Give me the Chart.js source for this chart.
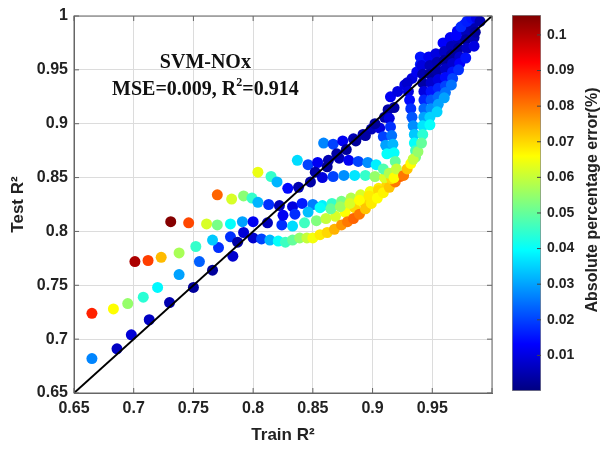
<!DOCTYPE html>
<html>
<head>
<meta charset="utf-8">
<script src="https://cdn.jsdelivr.net/npm/chart.js@4/dist/chart.umd.min.js"></script>
<style>
    body { margin: 0; background: #fff; }
    #wrap { position: relative; width: 600px; height: 450px; background: #fff; }
    #wrap canvas { position: absolute; left: 0; top: 0; }
</style>
</head>
<body>
<div id="wrap">
    <canvas id="grafico" width="600" height="450"></canvas>
    <canvas id="barra" width="600" height="450"></canvas>
</div>
<script>
// Dados (R2 de treino, R2 de teste, erro percentual absoluto)
const trainR2 = [
    0.665, 0.665, 0.683, 0.695, 0.708, 0.720, 0.738, 0.755, 0.771, 0.781, 0.792,
    0.686, 0.698, 0.713, 0.730, 0.750, 0.766, 0.783, 0.787,
    0.701, 0.712, 0.723, 0.738, 0.752, 0.766,
    0.731, 0.746, 0.761, 0.770, 0.781, 0.791, 0.800, 0.812, 0.824, 0.833, 0.843, 0.853, 0.861, 0.869, 0.877, 0.885, 0.893, 0.900, 0.907, 0.913,
    0.770, 0.782, 0.792, 0.799, 0.804, 0.813, 0.822, 0.833, 0.841, 0.850, 0.858, 0.866, 0.874, 0.882, 0.890, 0.898, 0.905, 0.912,
    0.825, 0.835, 0.846, 0.856, 0.865, 0.873, 0.881, 0.889, 0.897, 0.905,
    0.800, 0.807, 0.814, 0.821, 0.827, 0.833, 0.839, 0.845, 0.850, 0.856, 0.862, 0.868, 0.874, 0.879, 0.884, 0.889, 0.894, 0.899, 0.904, 0.909, 0.914, 0.919, 0.923,
    0.804, 0.815, 0.820, 0.829, 0.838, 0.848, 0.858, 0.867, 0.876, 0.885, 0.894, 0.902, 0.910, 0.916,
    0.837, 0.846, 0.854, 0.863, 0.872, 0.880, 0.888, 0.896, 0.903, 0.909, 0.914, 0.918,
    0.859, 0.867, 0.875, 0.884, 0.892, 0.899, 0.906, 0.909, 0.911, 0.912,
    0.852, 0.862, 0.870, 0.878, 0.886, 0.894, 0.902, 0.910, 0.918,
    0.913, 0.914, 0.915, 0.916, 0.917, 0.918, 0.919, 0.920,
    0.915, 0.921, 0.927, 0.933, 0.937, 0.940, 0.945, 0.950,
    0.929, 0.930, 0.931, 0.932, 0.933, 0.934, 0.935, 0.935, 0.936, 0.936,
    0.926, 0.929, 0.932, 0.934, 0.938,
    0.940, 0.941, 0.942, 0.942, 0.943, 0.943, 0.943, 0.943, 0.942, 0.942, 0.941,
    0.947, 0.948, 0.948, 0.949, 0.949, 0.949, 0.949, 0.948, 0.948,
    0.953, 0.954, 0.954, 0.955, 0.955, 0.955, 0.955, 0.954,
    0.959, 0.960, 0.960, 0.961, 0.961, 0.961, 0.961, 0.960,
    0.965, 0.966, 0.966, 0.967, 0.967, 0.967, 0.966,
    0.971, 0.972, 0.972, 0.973, 0.973, 0.972,
    0.977, 0.978, 0.978, 0.979, 0.978,
    0.983, 0.984, 0.985, 0.985,
    0.970, 0.974, 0.979, 0.983, 0.987, 0.990, 0.986
]
const testR2 = [
    0.682, 0.724, 0.728, 0.733, 0.739, 0.748, 0.760, 0.772, 0.785, 0.795, 0.799,
    0.691, 0.704, 0.718, 0.734, 0.748, 0.764, 0.777, 0.790,
    0.772, 0.773, 0.776, 0.780, 0.786, 0.792,
    0.809, 0.808, 0.807, 0.806, 0.807, 0.809, 0.809, 0.808, 0.806, 0.805, 0.808, 0.810, 0.812, 0.814, 0.818, 0.822, 0.827, 0.832, 0.838, 0.843,
    0.834, 0.830, 0.833, 0.831, 0.827, 0.825, 0.824, 0.823, 0.826, 0.825, 0.824, 0.826, 0.828, 0.831, 0.834, 0.837, 0.840, 0.844,
    0.815, 0.816, 0.818, 0.822, 0.821, 0.823, 0.826, 0.829, 0.833, 0.838,
    0.794, 0.793, 0.792, 0.791, 0.790, 0.792, 0.794, 0.794, 0.794, 0.797, 0.799, 0.802, 0.806, 0.809, 0.812, 0.816, 0.821, 0.826, 0.831, 0.836, 0.841, 0.846, 0.851,
    0.855, 0.851, 0.846, 0.840, 0.841, 0.846, 0.850, 0.851, 0.852, 0.852, 0.852, 0.851, 0.850, 0.849,
    0.866, 0.862, 0.864, 0.866, 0.868, 0.866, 0.865, 0.864, 0.862, 0.858, 0.854, 0.850,
    0.882, 0.881, 0.884, 0.886, 0.890, 0.895, 0.896, 0.888, 0.880, 0.872,
    0.855, 0.860, 0.872, 0.876, 0.884, 0.889, 0.900, 0.906, 0.915,
    0.913, 0.905, 0.897, 0.889, 0.881, 0.873, 0.865, 0.858,
    0.925, 0.930, 0.936, 0.942, 0.948, 0.955, 0.960, 0.962,
    0.938, 0.930, 0.922, 0.914, 0.906, 0.898, 0.890, 0.882, 0.875, 0.869,
    0.852, 0.858, 0.863, 0.867, 0.874,
    0.962, 0.954, 0.946, 0.938, 0.930, 0.922, 0.914, 0.906, 0.898, 0.890, 0.882,
    0.962, 0.954, 0.946, 0.938, 0.930, 0.922, 0.914, 0.906, 0.899,
    0.965, 0.957, 0.949, 0.941, 0.933, 0.925, 0.918, 0.911,
    0.975, 0.967, 0.959, 0.951, 0.943, 0.935, 0.929, 0.924,
    0.980, 0.972, 0.964, 0.956, 0.948, 0.942, 0.936,
    0.986, 0.978, 0.970, 0.962, 0.956, 0.950,
    0.992, 0.985, 0.978, 0.970, 0.961,
    0.995, 0.989, 0.980, 0.972,
    0.982, 0.990, 0.995, 0.998, 0.998, 0.995, 0.985
]
const absErr = [
    0.027, 0.089, 0.066, 0.055, 0.044, 0.039, 0.030, 0.023, 0.018, 0.018, 0.009,
    0.007, 0.009, 0.007, 0.005, 0.003, 0.003, 0.008, 0.004,
    0.101, 0.086, 0.073, 0.057, 0.045, 0.034,
    0.105, 0.085, 0.062, 0.052, 0.040, 0.030, 0.012, 0.006, 0.018, 0.036, 0.046, 0.053, 0.060, 0.062, 0.066, 0.070, 0.070, 0.068, 0.068, 0.070,
    0.082, 0.062, 0.054, 0.045, 0.032, 0.018, 0.006, 0.010, 0.016, 0.026, 0.038, 0.045, 0.052, 0.058, 0.062, 0.065, 0.068, 0.070,
    0.012, 0.018, 0.033, 0.040, 0.050, 0.056, 0.062, 0.066, 0.068, 0.070,
    0.008, 0.020, 0.032, 0.040, 0.046, 0.050, 0.055, 0.060, 0.065, 0.068, 0.070, 0.074, 0.077, 0.080, 0.082, 0.080, 0.072, 0.068, 0.066, 0.067, 0.072, 0.080, 0.082,
    0.064, 0.045, 0.032, 0.014, 0.005, 0.004, 0.010, 0.020, 0.028, 0.037, 0.045, 0.055, 0.062, 0.070,
    0.036, 0.020, 0.012, 0.005, 0.006, 0.012, 0.020, 0.028, 0.038, 0.048, 0.058, 0.066,
    0.027, 0.020, 0.012, 0.006, 0.005, 0.006, 0.010, 0.020, 0.030, 0.040,
    0.004, 0.003, 0.004, 0.003, 0.003, 0.004, 0.003, 0.004, 0.004,
    0.004, 0.010, 0.018, 0.025, 0.032, 0.040, 0.050, 0.060,
    0.012, 0.010, 0.010, 0.010, 0.012, 0.016, 0.016, 0.012,
    0.008, 0.010, 0.014, 0.018, 0.022, 0.028, 0.034, 0.040, 0.046, 0.052,
    0.080, 0.072, 0.066, 0.060, 0.055,
    0.015, 0.010, 0.005, 0.004, 0.010, 0.017, 0.024, 0.030, 0.037, 0.044, 0.050,
    0.012, 0.006, 0.003, 0.008, 0.015, 0.022, 0.028, 0.035, 0.040,
    0.010, 0.005, 0.004, 0.010, 0.017, 0.024, 0.030, 0.035,
    0.013, 0.007, 0.003, 0.007, 0.014, 0.020, 0.025, 0.030,
    0.012, 0.006, 0.003, 0.008, 0.015, 0.020, 0.025,
    0.012, 0.006, 0.003, 0.008, 0.013, 0.018,
    0.012, 0.006, 0.003, 0.007, 0.015,
    0.010, 0.005, 0.005, 0.010,
    0.013, 0.017, 0.016, 0.015, 0.011, 0.005, 0.003
]
const refLine = [0.65, 1]          // reta y = x
const cbMax = 0.1056               // topo da barra de cores
const cbTicks = [0.01, 0.02, 0.03, 0.04, 0.05, 0.06, 0.07, 0.08, 0.09, 0.1]

const corTexto = '#222'
const fonte = 'Liberation Sans, Arial, sans-serif'

// colormap "jet" do MATLAB
function jet(v) {
    const t = Math.min(1, Math.max(0, v / cbMax))
    const c = x => Math.round(255 * Math.min(1, Math.max(0, x)))
    return `rgb(${c(1.5 - Math.abs(4 * t - 3))}, ${c(1.5 - Math.abs(4 * t - 2))}, ${c(1.5 - Math.abs(4 * t - 1))})`
}

const pontos = trainR2.map((x, i) => ({ x: x, y: testR2[i] }))
const cores = absErr.map(jet)

// Moldura com ticks internos (estilo MATLAB)
const caixa = {
    id: 'caixa',
    afterDraw(chart) {
        const { ctx, chartArea: a, scales } = chart
        ctx.save()
        ctx.strokeStyle = '#666'
        ctx.lineWidth = 1
        ctx.strokeRect(a.left, a.top, a.right - a.left, a.bottom - a.top)
        ctx.beginPath()
        scales.x.ticks.forEach(t => {
            const px = scales.x.getPixelForValue(t.value)
            ctx.moveTo(px, a.bottom); ctx.lineTo(px, a.bottom - 5)
            ctx.moveTo(px, a.top); ctx.lineTo(px, a.top + 5)
        })
        scales.y.ticks.forEach(t => {
            const py = scales.y.getPixelForValue(t.value)
            ctx.moveTo(a.left, py); ctx.lineTo(a.left + 5, py)
            ctx.moveTo(a.right, py); ctx.lineTo(a.right - 5, py)
        })
        ctx.stroke()
        ctx.restore()
    }
}

// Texto SVM-NOx / MSE / R2
const anotacao = {
    id: 'anotacao',
    afterDraw(chart) {
        const { ctx, scales } = chart
        const cx = scales.x.getPixelForValue(0.76)
        const y1 = scales.y.getPixelForValue(0.952)
        const y2 = scales.y.getPixelForValue(0.927)
        ctx.save()
        ctx.fillStyle = '#111'
        ctx.textBaseline = 'alphabetic'
        ctx.font = 'bold 20px "Liberation Serif", "Times New Roman", serif'
        ctx.textAlign = 'center'
        ctx.fillText('SVM-NOx', cx, y1)
        const a = 'MSE=0.009, R', b = '=0.914'
        const wa = ctx.measureText(a).width
        const wb = ctx.measureText(b).width
        ctx.font = 'bold 12px "Liberation Serif", "Times New Roman", serif'
        const ws = ctx.measureText('2').width
        const x0 = cx - (wa + ws + wb) / 2
        ctx.textAlign = 'left'
        ctx.fillText('2', x0 + wa, y2 - 9)
        ctx.font = 'bold 20px "Liberation Serif", "Times New Roman", serif'
        ctx.fillText(a, x0, y2)
        ctx.fillText(b, x0 + wa + ws, y2)
        ctx.restore()
    }
}

const fmt = v => String(+v.toFixed(2))

new Chart(document.getElementById('grafico').getContext('2d'), {
    type: 'scatter',
    data: {
        datasets: [
            {
                type: 'line',
                data: refLine.map(v => ({ x: v, y: v })),
                borderColor: '#000',
                borderWidth: 2,
                pointRadius: 0,
                order: 0
            },
            {
                data: pontos,
                backgroundColor: cores,
                pointRadius: 5.5,
                pointHoverRadius: 5.5,
                borderWidth: 0,
                order: 1
            }
        ]
    },
    options: {
        responsive: false,
        animation: false,
        devicePixelRatio: 1,
        events: [],
        layout: { padding: { top: 16, right: 108, left: 0, bottom: 0 } },
        plugins: { legend: { display: false }, tooltip: { enabled: false } },
        scales: {
            x: {
                type: 'linear', min: 0.65, max: 1,
                ticks: {
                    stepSize: 0.05,
                    callback: v => v > 0.999 ? '' : fmt(v),
                    font: { family: fonte, size: 16, weight: 'bold' },
                    color: corTexto, padding: 6, maxRotation: 0
                },
                grid: { color: '#dcdcdc', drawTicks: false },
                border: { color: '#666' },
                title: { display: true, text: 'Train R²', color: corTexto, font: { family: fonte, size: 17, weight: 'bold' }, padding: { top: 0, bottom: 4 } },
                afterFit: s => { s.height = 57 }
            },
            y: {
                type: 'linear', min: 0.65, max: 1,
                ticks: {
                    stepSize: 0.05,
                    callback: v => fmt(v),
                    font: { family: fonte, size: 16, weight: 'bold' },
                    color: corTexto, padding: 6
                },
                grid: { color: '#dcdcdc', drawTicks: false },
                border: { color: '#666' },
                title: { display: true, text: 'Test R²', color: corTexto, font: { family: fonte, size: 17, weight: 'bold' }, padding: { top: 8, bottom: 0 } },
                afterFit: s => { s.width = 74 }
            }
        }
    },
    plugins: [caixa, anotacao]
})

// Barra de cores
const tituloBarra = {
    id: 'tituloBarra',
    afterDraw(chart) {
        const { ctx, chartArea: a, scales } = chart
        ctx.save()
        ctx.strokeStyle = '#444'
        ctx.beginPath()
        cbTicks.forEach(v => {
            const py = scales.y.getPixelForValue(v)
            ctx.moveTo(a.right, py); ctx.lineTo(a.right - 4, py)
        })
        ctx.stroke()
        ctx.translate(593, (a.top + a.bottom) / 2 - 3)
        ctx.rotate(-Math.PI / 2)
        ctx.fillStyle = corTexto
        ctx.font = 'bold 16px ' + fonte
        ctx.textAlign = 'center'
        ctx.textBaseline = 'middle'
        ctx.fillText('Absolute percentage error(%)', 0, 0)
        ctx.restore()
    }
}

new Chart(document.getElementById('barra').getContext('2d'), {
    type: 'bar',
    data: {
        labels: [''],
        datasets: [{
            data: [[0, cbMax]],
            backgroundColor: c => {
                const area = c.chart.chartArea
                if (!area) return '#000'
                const g = c.chart.ctx.createLinearGradient(0, area.bottom, 0, area.top)
                for (let i = 0; i <= 40; i++) g.addColorStop(i / 40, jet(cbMax * i / 40))
                return g
            },
            borderColor: '#888',
            borderWidth: 1,
            borderSkipped: false,
            barPercentage: 1,
            categoryPercentage: 1
        }]
    },
    options: {
        responsive: false,
        animation: false,
        devicePixelRatio: 1,
        events: [],
        layout: { padding: { left: 512, top: 15, bottom: 59, right: 0 } },
        plugins: { legend: { display: false }, tooltip: { enabled: false } },
        scales: {
            x: { display: false },
            y: {
                position: 'right', min: 0, max: cbMax,
                afterBuildTicks: s => { s.ticks = cbTicks.map(v => ({ value: v })) },
                ticks: {
                    callback: v => fmt(v),
                    font: { family: fonte, size: 14, weight: 'bold' },
                    color: corTexto, padding: 6
                },
                grid: { display: false, drawTicks: false },
                border: { display: false },
                afterFit: s => { s.width = 59 }
            }
        }
    },
    plugins: [tituloBarra]
})
</script>
</body>
</html>
